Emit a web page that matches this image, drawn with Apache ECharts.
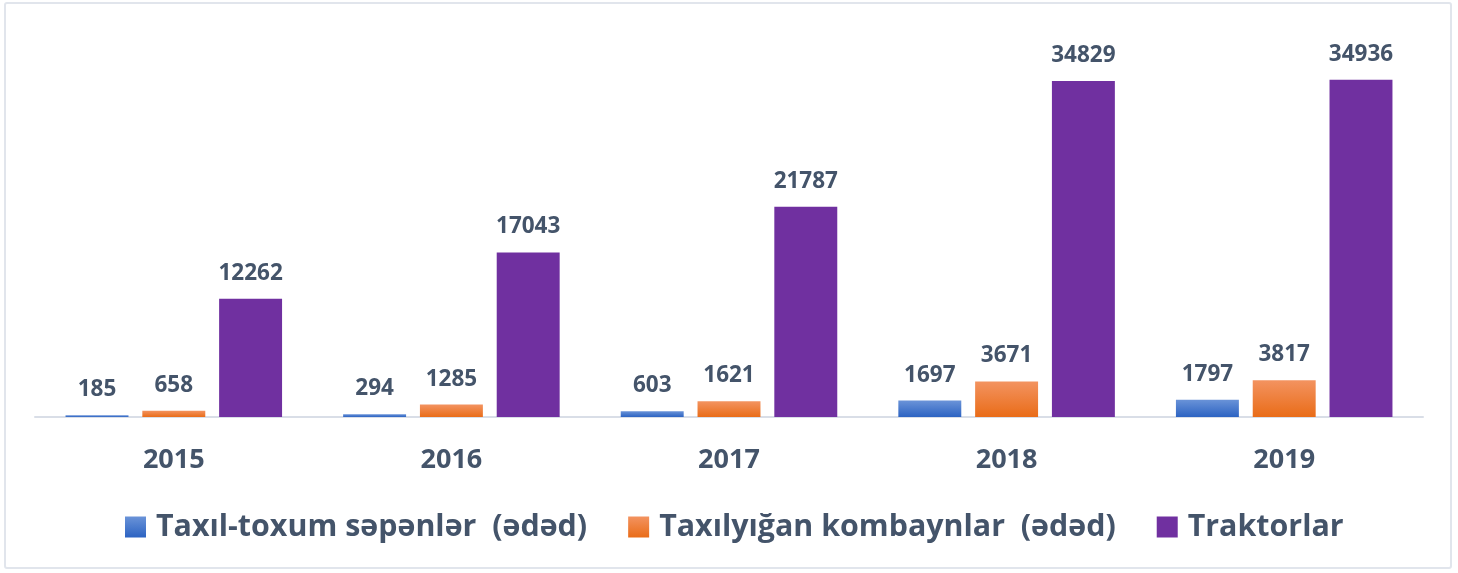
<!DOCTYPE html>
<html>
<head>
<meta charset="utf-8">
<script src="https://cdn.jsdelivr.net/npm/echarts@6/dist/echarts.min.js"></script>
<style>
  html, body { margin: 0; padding: 0; background: #fff; }
  #chart {
    position: absolute; left: 4px; top: 2px;
    width: 1448px; height: 567px;
    border: 2px solid #E1E5EC; border-radius: 3px; box-sizing: border-box;
  }
</style>
</head>
<body>
<div id="chart"></div>
<script>
// region data
const years = ['2015', '2016', '2017', '2018', '2019']
const seeders = [185, 294, 603, 1697, 1797]
const combines = [658, 1285, 1621, 3671, 3817]
const tractors = [12262, 17043, 21787, 34829, 34936]
const seriesNames = ['Taxıl-toxum səpənlər  (ədəd)', 'Taxılyığan kombaynlar  (ədəd)', 'Traktorlar']
// endregion

const FONT = 'Open Sans'
const TEXT = '#44546A'

function grad(top, bottom) {
  return new echarts.graphic.LinearGradient(0, 0, 0, 1, [
    {offset: 0, color: top},
    {offset: 1, color: bottom}
  ])
}

const label = {
  show: true,
  position: 'top',
  distance: 14,
  color: TEXT,
  fontFamily: FONT,
  fontWeight: 'bold',
  fontSize: 22.5
}

const chart = echarts.init(document.getElementById('chart'))
chart.setOption({
  animation: false,
  grid: {left: 29, right: 27, top: 27, bottom: 150},
  legend: {
    left: 114,
    top: 503,
    itemWidth: 21,
    itemHeight: 21,
    itemGap: 41,
    icon: 'rect',
    textStyle: {
      color: TEXT, fontFamily: FONT, fontWeight: 'bold', fontSize: 30.4, lineHeight: 30,
      padding: [0, 0, 0, 5]
    },
    data: seriesNames
  },
  xAxis: {
    type: 'category',
    data: years,
    axisLine: {lineStyle: {color: '#D9DEE7', width: 2}},
    axisTick: {show: false},
    axisLabel: {color: TEXT, fontFamily: FONT, fontWeight: 'bold', fontSize: 27, margin: 30}
  },
  yAxis: {
    type: 'value',
    min: 0,
    max: 40000,
    show: false,
    splitLine: {show: false}
  },
  series: [
    {
      name: seriesNames[0],
      type: 'bar',
      barGap: '22%',
      barCategoryGap: '22%',
      data: seeders,
      itemStyle: {color: grad('#6A93D8', '#2C63C2')},
      label: label
    },
    {
      name: seriesNames[1],
      type: 'bar',
      data: combines,
      itemStyle: {color: grad('#F39360', '#E96C18')},
      label: label
    },
    {
      name: seriesNames[2],
      type: 'bar',
      data: tractors,
      itemStyle: {color: '#7030A0'},
      label: label
    }
  ]
})
</script>
</body>
</html>
